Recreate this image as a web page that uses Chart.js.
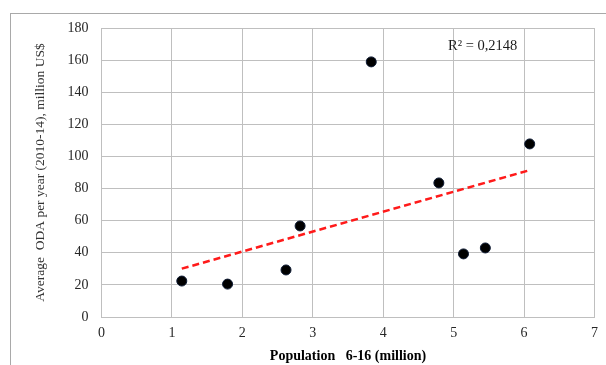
<!DOCTYPE html>
<html>
<head>
<meta charset="utf-8">
<script src="https://cdn.jsdelivr.net/npm/chart.js@4/dist/chart.umd.min.js"></script>
<style>
  html, body { margin: 0; padding: 0; background: #fff; overflow: hidden; }
  #wrap { position: relative; width: 606px; height: 365px; overflow: hidden; }
  #frame { position: absolute; left: 10px; top: 13px; width: 700px; height: 400px;
           border-left: 1px solid #a9a9a9; border-top: 1px solid #a9a9a9; }
  canvas { position: absolute; left: 0; top: 0; }
</style>
</head>
<body>
<div id="wrap">
  <div id="frame"></div>
  <canvas id="c" width="606" height="365"></canvas>
</div>
<script>
// Population aged 6-16 (million) and average ODA per year 2010-14 (million US$)
const population = [1.14, 1.79, 2.62, 2.82, 3.83, 4.79, 5.14, 5.45, 6.08];
const odaPerYear = [22.4, 20.5, 29.3, 56.7, 158.9, 83.5, 39.3, 43.0, 107.8];
const xTicks = [0, 1, 2, 3, 4, 5, 6, 7];
const yTicks = [0, 20, 40, 60, 80, 100, 120, 140, 160, 180];
const rSquaredLabel = 'R² = 0,2148';

// Least-squares linear trend through the points
function linearFit(xs, ys) {
  const n = xs.length;
  const mx = xs.reduce((a, b) => a + b, 0) / n;
  const my = ys.reduce((a, b) => a + b, 0) / n;
  let sxy = 0, sxx = 0;
  for (let i = 0; i < n; i++) {
    sxy += (xs[i] - mx) * (ys[i] - my);
    sxx += (xs[i] - mx) * (xs[i] - mx);
  }
  const slope = sxy / sxx;
  return { slope, intercept: my - slope * mx };
}
const fit = linearFit(population, odaPerYear);
const xMin = Math.min(...population), xMax = Math.max(...population);
const trend = [xMin, xMax].map(x => ({ x, y: fit.intercept + fit.slope * x }));

const points = population.map((x, i) => ({ x, y: odaPerYear[i] }));

const serif = '"Liberation Serif", "Times New Roman", serif';
const gridColor = '#bfbfbf';

// Writes the R² annotation inside the plot area
const rSquaredPlugin = {
  id: 'rSquared',
  afterDatasetsDraw(chart) {
    const { ctx, scales } = chart;
    const px = scales.x.getPixelForValue(4.92);
    const py = scales.y.getPixelForValue(168.8);
    ctx.save();
    ctx.font = '14.5px ' + serif;
    ctx.fillStyle = '#1a1a1a';
    ctx.textAlign = 'left';
    ctx.textBaseline = 'middle';
    ctx.fillText(rSquaredLabel, px, py);
    ctx.restore();
  }
};

new Chart(document.getElementById('c'), {
  type: 'scatter',
  data: {
    datasets: [
      {
        label: 'ODA',
        data: points,
        backgroundColor: '#000000',
        borderColor: '#0d1a33',
        borderWidth: 1,
        pointRadius: 5,
        pointHoverRadius: 5,
        order: 1
      },
      {
        type: 'line',
        label: 'Linear trend',
        data: trend,
        borderColor: '#ff1a1a',
        borderWidth: 2.5,
        borderDash: [7, 4],
        pointRadius: 0,
        fill: false,
        order: 2
      }
    ]
  },
  options: {
    responsive: false,
    animation: false,
    devicePixelRatio: 1,
    layout: { padding: { left: 0, right: 7, top: 28, bottom: 0 } },
    plugins: { legend: { display: false }, tooltip: { enabled: false } },
    scales: {
      x: {
        type: 'linear',
        min: 0, max: 7,
        afterBuildTicks: s => { s.ticks = xTicks.map(v => ({ value: v })); },
        afterFit: s => { s.height = 48; },
        grid: { color: gridColor, lineWidth: 1, drawTicks: false },
        border: { color: gridColor, width: 1 },
        ticks: { font: { family: serif, size: 14 }, color: '#262626', padding: 8 },
        title: {
          display: true,
          text: 'Population   6-16 (million)',
          font: { family: serif, size: 14, weight: 'bold' },
          color: '#000',
          padding: { top: 4, bottom: 0 }
        }
      },
      y: {
        type: 'linear',
        min: 0, max: 180,
        afterBuildTicks: s => { s.ticks = yTicks.map(v => ({ value: v })); },
        afterFit: s => { s.width = 101.5; },
        grid: { color: gridColor, lineWidth: 1, drawTicks: false },
        border: { color: gridColor, width: 1 },
        ticks: { font: { family: serif, size: 14 }, color: '#262626', padding: 13 },
        title: {
          display: true,
          text: 'Average  ODA per year (2010-14), million US$',
          font: { family: serif, size: 13.5 },
          color: '#333',
          padding: { top: 32, bottom: 0 }
        }
      }
    }
  },
  plugins: [rSquaredPlugin]
});
</script>
</body>
</html>
